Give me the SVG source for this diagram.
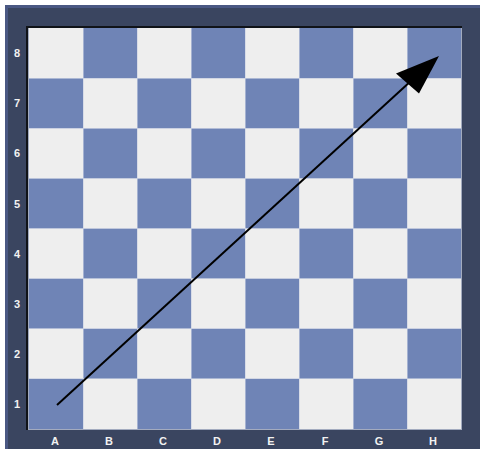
<svg xmlns="http://www.w3.org/2000/svg" width="480" height="449" viewBox="0 0 480 449">
<style>
.l{fill:#eeeeee}
.d{fill:#6f84b6}
.lbl{font-family:"Liberation Sans",Arial,sans-serif;font-size:11px;font-weight:bold;fill:#f2f2f2;text-anchor:middle;dominant-baseline:central}
.grid{stroke:#c9d0e2;stroke-width:1;fill:none;opacity:0.6}
</style>
<defs>
<marker id="ah" viewBox="0 0 10 10" refX="10" refY="5" markerWidth="10" markerHeight="10" markerUnits="userSpaceOnUse" orient="auto" overflow="visible">
<path d="M0,0 L10,5 L0,10 z" fill="#000"/>
</marker>
</defs>
<rect x="0" y="0" width="480" height="449" fill="#ffffff"/>
<g id="frame">
<rect x="5" y="5" width="475" height="444" fill="#4a5883"/>
<rect x="8" y="8" width="472" height="441" fill="#3a4560"/>
<rect x="26" y="26" width="436" height="404" fill="#101318"/>
<rect x="28" y="28" width="434" height="402" fill="#a3abbf"/>
</g>
<g id="board">
<rect x="29" y="28" width="432" height="401" class="l"/>
<g class="d">
<rect x="83" y="28" width="54" height="50.125"/><rect x="191" y="28" width="54" height="50.125"/><rect x="299" y="28" width="54" height="50.125"/><rect x="407" y="28" width="54" height="50.125"/>
<rect x="29" y="78.125" width="54" height="50.125"/><rect x="137" y="78.125" width="54" height="50.125"/><rect x="245" y="78.125" width="54" height="50.125"/><rect x="353" y="78.125" width="54" height="50.125"/>
<rect x="83" y="128.25" width="54" height="50.125"/><rect x="191" y="128.25" width="54" height="50.125"/><rect x="299" y="128.25" width="54" height="50.125"/><rect x="407" y="128.25" width="54" height="50.125"/>
<rect x="29" y="178.375" width="54" height="50.125"/><rect x="137" y="178.375" width="54" height="50.125"/><rect x="245" y="178.375" width="54" height="50.125"/><rect x="353" y="178.375" width="54" height="50.125"/>
<rect x="83" y="228.5" width="54" height="50.125"/><rect x="191" y="228.5" width="54" height="50.125"/><rect x="299" y="228.5" width="54" height="50.125"/><rect x="407" y="228.5" width="54" height="50.125"/>
<rect x="29" y="278.625" width="54" height="50.125"/><rect x="137" y="278.625" width="54" height="50.125"/><rect x="245" y="278.625" width="54" height="50.125"/><rect x="353" y="278.625" width="54" height="50.125"/>
<rect x="83" y="328.75" width="54" height="50.125"/><rect x="191" y="328.75" width="54" height="50.125"/><rect x="299" y="328.75" width="54" height="50.125"/><rect x="407" y="328.75" width="54" height="50.125"/>
<rect x="29" y="378.875" width="54" height="50.125"/><rect x="137" y="378.875" width="54" height="50.125"/><rect x="245" y="378.875" width="54" height="50.125"/><rect x="353" y="378.875" width="54" height="50.125"/>
</g>
<path class="grid" d="M83.5,28V429M137.5,28V429M191.5,28V429M245.5,28V429M299.5,28V429M353.5,28V429M407.5,28V429M29,78.5H461M29,128.5H461M29,178.5H461M29,228.5H461M29,278.5H461M29,328.5H461M29,378.5H461"/>
</g>
<g id="labels">
<text class="lbl" x="17" y="53">8</text>
<text class="lbl" x="17" y="103">7</text>
<text class="lbl" x="17" y="153">6</text>
<text class="lbl" x="17" y="204">5</text>
<text class="lbl" x="17" y="254">4</text>
<text class="lbl" x="17" y="304">3</text>
<text class="lbl" x="17" y="354">2</text>
<text class="lbl" x="17" y="404">1</text>
<text class="lbl" x="55" y="441">A</text>
<text class="lbl" x="109" y="441">B</text>
<text class="lbl" x="163" y="441">C</text>
<text class="lbl" x="217" y="441">D</text>
<text class="lbl" x="271" y="441">E</text>
<text class="lbl" x="325" y="441">F</text>
<text class="lbl" x="379" y="441">G</text>
<text class="lbl" x="433" y="441">H</text>
</g>
<g id="connectors">
<line x1="57" y1="405" x2="412" y2="80" stroke="#000" stroke-width="2"/>
<path d="M439,56 L396,73.5 L419,93.5 z" fill="#000"/>
</g>
</svg>
